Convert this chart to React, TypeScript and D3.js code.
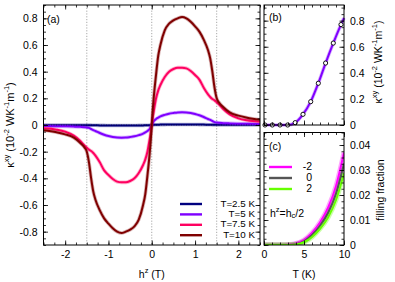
import React, { useRef, useEffect } from 'react';
import * as d3 from 'd3';

const W = 395;
const H = 282;
const FONT = '"Liberation Sans", Arial, Helvetica, sans-serif';

// panel (a): kappa_xy vs h^z for four temperatures
const hField = [
  -2.5, -2.2, -2.0, -1.8, -1.65, -1.55, -1.5, -1.45, -1.4, -1.35, -1.3, -1.2, -1.1, -1.0,
  -0.9, -0.8, -0.7, -0.6, -0.5, -0.4, -0.3, -0.2, -0.15, -0.1, -0.05, -0.02, 0,
  0.02, 0.05, 0.1, 0.15, 0.2, 0.3, 0.4, 0.5, 0.6, 0.7, 0.8, 0.9, 1.0, 1.1, 1.2, 1.3,
  1.35, 1.4, 1.45, 1.5, 1.55, 1.65, 1.8, 2.0, 2.2, 2.5
];
const kappaT25 = [
  -0.001, -0.001, -0.001, -0.001, -0.001, -0.001, -0.001, -0.001, -0.001, -0.002, -0.002, -0.003, -0.003, -0.004,
  -0.004, -0.004, -0.004, -0.004, -0.004, -0.004, -0.003, -0.003, -0.002, -0.002, -0.001, -0.001, 0,
  0.001, 0.001, 0.002, 0.002, 0.003, 0.003, 0.004, 0.004, 0.004, 0.004, 0.004, 0.004, 0.004, 0.003, 0.003, 0.002,
  0.002, 0.001, 0.001, 0.001, 0.001, 0.001, 0.001, 0.001, 0.001, 0.001
];
const kappaT5 = [
  -0.008, -0.009, -0.01, -0.012, -0.014, -0.016, -0.018, -0.022, -0.03, -0.038, -0.045, -0.06, -0.073, -0.083,
  -0.09, -0.094, -0.095, -0.094, -0.09, -0.085, -0.076, -0.064, -0.055, -0.045, -0.03, -0.012, 0,
  0.012, 0.03, 0.045, 0.055, 0.064, 0.076, 0.085, 0.09, 0.094, 0.095, 0.094, 0.09, 0.083, 0.073, 0.06, 0.045,
  0.038, 0.03, 0.022, 0.018, 0.016, 0.014, 0.012, 0.01, 0.009, 0.008
];
const kappaT75 = [
  -0.025, -0.035, -0.05, -0.08, -0.12, -0.155, -0.17, -0.185, -0.195, -0.21, -0.23, -0.28, -0.34, -0.375,
  -0.405, -0.425, -0.43, -0.43, -0.42, -0.4, -0.36, -0.3, -0.26, -0.2, -0.11, -0.05, 0,
  0.05, 0.11, 0.2, 0.26, 0.3, 0.36, 0.4, 0.42, 0.43, 0.43, 0.425, 0.405, 0.375, 0.34, 0.28, 0.23,
  0.21, 0.195, 0.185, 0.17, 0.155, 0.12, 0.08, 0.05, 0.035, 0.025
];
const kappaT10 = [
  -0.04, -0.055, -0.07, -0.095, -0.135, -0.17, -0.2, -0.28, -0.4, -0.5, -0.56, -0.64, -0.7, -0.74,
  -0.775, -0.8, -0.81, -0.8, -0.785, -0.76, -0.71, -0.6, -0.52, -0.38, -0.22, -0.1, 0,
  0.1, 0.22, 0.38, 0.52, 0.6, 0.71, 0.76, 0.785, 0.8, 0.81, 0.8, 0.775, 0.74, 0.7, 0.64, 0.56,
  0.5, 0.4, 0.28, 0.2, 0.17, 0.135, 0.095, 0.07, 0.055, 0.04
];
const seriesLabels = ['T=2.5 K', 'T=5 K', 'T=7.5 K', 'T=10 K'];
const seriesColors = ['#00007f', '#7f00ff', '#ff0060', '#7f0000'];
const seriesValues = [kappaT25, kappaT5, kappaT75, kappaT10];
const criticalFields = [-1.5, 0, 1.5];

// panel (b): kappa_xy vs T at fixed field
const tempB = [0.125, 1.04, 2.0, 2.96, 3.9, 4.875, 5.84, 6.79, 7.7, 8.66, 9.625];
const kappaB = [0, 0, 0, 0, 0.018, 0.082, 0.179, 0.32, 0.475, 0.628, 0.77];
const tempBLine = [0, 0.125, 1.04, 2.0, 2.96, 3.9, 4.875, 5.84, 6.79, 7.7, 8.66, 9.625, 10];
const kappaBLine = [0, 0, 0, 0, 0, 0.018, 0.082, 0.179, 0.32, 0.475, 0.628, 0.77, 0.82];

// panel (c): filling fraction vs T
const tempC = [0, 1, 2, 3, 4, 5, 6, 7, 8, 9, 10];
const fillM2 = [0, 0, 0, 0.0001, 0.0006, 0.002, 0.0048, 0.009, 0.0148, 0.0235, 0.037];
const fill0 = [0, 0, 0, 0, 0.0003, 0.0015, 0.004, 0.0077, 0.0128, 0.0205, 0.0325];
const fillP2 = [0, 0, 0, 0, 0.0002, 0.0011, 0.0032, 0.0065, 0.011, 0.018, 0.0287];
const fillLabels = ['-2', '0', '2'];
const fillColors = ['#ff00ff', '#555555', '#66ff00'];
const fillValues = [fillM2, fill0, fillP2];

const App = () => {
  const svgRef = useRef(null);

  useEffect(() => {
    const svg = d3.select(svgRef.current);
    svg.selectAll('*').remove();
    svg.attr('font-family', FONT);

    const fmt = (d) => (d === 0 ? '0' : String(d));

    // draws inward ticks on all four sides plus the frame
    const frame = (x, y, xMajor, xMinor, yMajor, yMinor, opts) => {
      const [x0, x1] = x.range();
      const [y0, y1] = y.range(); // y0 bottom, y1 top
      const g = svg.append('g');
      const tick = (sel) => sel.select('.domain').remove();
      const styleText = (sel) => sel.selectAll('text').attr('fill', '#000').style('font-size', '10.5px').style('font-family', FONT);

      const bottom = g.append('g').attr('transform', `translate(0,${y0})`)
        .call(d3.axisBottom(x).tickValues(xMajor).tickSize(-4.5).tickPadding(6)
          .tickFormat(opts.xLabels ? fmt : () => ''));
      tick(bottom); styleText(bottom);
      const bottomMinor = g.append('g').attr('transform', `translate(0,${y0})`)
        .call(d3.axisBottom(x).tickValues(xMinor).tickSize(-2.5).tickFormat(() => ''));
      tick(bottomMinor);
      const top = g.append('g').attr('transform', `translate(0,${y1})`)
        .call(d3.axisTop(x).tickValues(xMajor).tickSize(-4.5).tickFormat(() => ''));
      tick(top);
      const topMinor = g.append('g').attr('transform', `translate(0,${y1})`)
        .call(d3.axisTop(x).tickValues(xMinor).tickSize(-2.5).tickFormat(() => ''));
      tick(topMinor);

      const left = g.append('g').attr('transform', `translate(${x0},0)`)
        .call(d3.axisLeft(y).tickValues(yMajor).tickSize(-4.5).tickPadding(6)
          .tickFormat(opts.yLabelsLeft ? fmt : () => ''));
      tick(left); styleText(left);
      const leftMinor = g.append('g').attr('transform', `translate(${x0},0)`)
        .call(d3.axisLeft(y).tickValues(yMinor).tickSize(-2.5).tickFormat(() => ''));
      tick(leftMinor);
      const right = g.append('g').attr('transform', `translate(${x1},0)`)
        .call(d3.axisRight(y).tickValues(yMajor).tickSize(-4.5).tickPadding(6)
          .tickFormat(opts.yLabelsRight ? fmt : () => ''));
      tick(right); styleText(right);
      const rightMinor = g.append('g').attr('transform', `translate(${x1},0)`)
        .call(d3.axisRight(y).tickValues(yMinor).tickSize(-2.5).tickFormat(() => ''));
      tick(rightMinor);

      g.selectAll('.tick line').attr('stroke', '#000').attr('stroke-width', 0.8);

      g.append('rect')
        .attr('x', x0).attr('y', y1)
        .attr('width', x1 - x0).attr('height', y0 - y1)
        .attr('fill', 'none').attr('stroke', '#000').attr('stroke-width', 1);
    };

    // rich text with superscripts / subscripts
    const richText = (parent, parts, x, y, anchor, rotate, size = 10.5) => {
      const t = parent.append('text')
        .attr('x', x).attr('y', y)
        .attr('text-anchor', anchor)
        .attr('dominant-baseline', 'middle')
        .style('font-size', `${size}px`)
        .attr('fill', '#000');
      if (rotate) t.attr('transform', `rotate(-90,${x},${y})`);
      parts.forEach((p) => {
        const s = t.append('tspan').text(p.t);
        if (p.sup) s.attr('baseline-shift', '45%').style('font-size', '7.5px');
        if (p.sub) s.attr('baseline-shift', '-25%').style('font-size', '7.5px');
      });
      return t;
    };

    const range = (a, b, step) => d3.range(a, b + step / 2, step).map((v) => Math.round(v * 10000) / 10000);

    // ---------- panel (a)
    const xA = d3.scaleLinear().domain([-2.5, 2.5]).range([43.5, 260]);
    const yA = d3.scaleLinear().domain([-0.9, 0.9]).range([245, 5]);
    const gA = svg.append('g');

    criticalFields.forEach((h) => {
      gA.append('line')
        .attr('x1', xA(h)).attr('x2', xA(h))
        .attr('y1', yA(0.9)).attr('y2', yA(-0.9))
        .attr('stroke', '#a8a8a8').attr('stroke-width', 1)
        .attr('stroke-dasharray', '1.2,1.6');
    });

    const lineA = d3.line()
      .x((d, i) => xA(hField[i]))
      .y((d) => yA(d))
      .curve(d3.curveMonotoneX);

    seriesValues.forEach((vals, i) => {
      gA.append('path').datum(vals)
        .attr('fill', 'none').attr('stroke', seriesColors[i])
        .attr('stroke-opacity', 0.3).attr('stroke-width', 3.6)
        .attr('d', lineA);
      gA.append('path').datum(vals)
        .attr('fill', 'none').attr('stroke', seriesColors[i])
        .attr('stroke-width', 2)
        .attr('d', lineA);
    });
    gA.append('line')
      .attr('x1', xA(-2.5)).attr('x2', xA(2.5))
      .attr('y1', yA(0)).attr('y2', yA(0))
      .attr('stroke', '#000').attr('stroke-width', 0.8)
      .attr('stroke-dasharray', '1,1.5').attr('stroke-opacity', 0.6);

    frame(xA, yA, range(-2, 2, 1), range(-2.5, 2.5, 0.25), range(-0.8, 0.8, 0.2), range(-0.9, 0.9, 0.05),
      { xLabels: true, yLabelsLeft: true, yLabelsRight: false });

    // legend (a)
    seriesLabels.forEach((lab, i) => {
      const yy = 204 + i * 10.4;
      gA.append('line')
        .attr('x1', 180).attr('x2', 202).attr('y1', yy).attr('y2', yy)
        .attr('stroke', seriesColors[i]).attr('stroke-width', 2.4);
      gA.append('text')
        .attr('x', 255).attr('y', yy)
        .attr('text-anchor', 'end').attr('dominant-baseline', 'middle')
        .style('font-size', '9.8px').text(lab);
    });
    gA.append('text').attr('x', 47).attr('y', 20)
      .attr('dominant-baseline', 'middle').style('font-size', '10.5px').text('(a)');

    richText(svg, [{ t: 'h' }, { t: 'z', sup: true }, { t: ' (T)' }], xA(0), 275, 'middle', false);
    richText(svg, [{ t: 'κ' }, { t: 'xy', sup: true }, { t: ' (10' }, { t: '-2', sup: true }, { t: ' WK' },
      { t: '-1', sup: true }, { t: 'm' }, { t: '-1', sup: true }, { t: ')' }], 11, 125, 'middle', true, 11);

    // ---------- panel (b)
    const xB = d3.scaleLinear().domain([0, 10]).range([264, 344]);
    const yB = d3.scaleLinear().domain([0, 0.92]).range([125, 5]);
    const gB = svg.append('g');
    const lineB = d3.line()
      .x((d, i) => xB(tempBLine[i]))
      .y((d) => yB(d))
      .curve(d3.curveMonotoneX);
    gB.append('path').datum(kappaBLine)
      .attr('fill', 'none').attr('stroke', '#8000ff').attr('stroke-opacity', 0.3)
      .attr('stroke-width', 3.6).attr('d', lineB);
    gB.append('path').datum(kappaBLine)
      .attr('fill', 'none').attr('stroke', '#8000ff').attr('stroke-width', 2).attr('d', lineB);
    gB.selectAll('circle').data(kappaB).enter().append('circle')
      .attr('cx', (d, i) => xB(tempB[i])).attr('cy', (d) => yB(d))
      .attr('r', 2.1).attr('fill', '#fff').attr('stroke', '#000').attr('stroke-width', 0.9);

    frame(xB, yB, range(0, 10, 5), range(0, 10, 1), range(0, 0.8, 0.2), range(0, 0.9, 0.05),
      { xLabels: false, yLabelsLeft: false, yLabelsRight: true });
    gB.append('text').attr('x', 269).attr('y', 18)
      .attr('dominant-baseline', 'middle').style('font-size', '10.5px').text('(b)');
    richText(svg, [{ t: 'κ' }, { t: 'xy', sup: true }, { t: ' (10' }, { t: '-2', sup: true }, { t: ' WK' },
      { t: '-1', sup: true }, { t: 'm' }, { t: '-1', sup: true }, { t: ')' }], 379, 62, 'middle', true);

    // ---------- panel (c)
    const xC = d3.scaleLinear().domain([0, 10]).range([264, 344]);
    const yC = d3.scaleLinear().domain([0, 0.045]).range([245, 132.5]);
    const gC = svg.append('g');
    const clipId = 'clipC';
    svg.append('defs').append('clipPath').attr('id', clipId)
      .append('rect').attr('x', 264).attr('y', 132.5).attr('width', 80).attr('height', 112.5);
    const lineC = d3.line()
      .x((d, i) => xC(tempC[i]))
      .y((d) => yC(d))
      .curve(d3.curveMonotoneX);
    const gCurves = gC.append('g').attr('clip-path', `url(#${clipId})`);
    fillValues.forEach((vals, i) => {
      gCurves.append('path').datum(vals)
        .attr('fill', 'none').attr('stroke', fillColors[i]).attr('stroke-opacity', 0.35)
        .attr('stroke-width', 5).attr('d', lineC);
    });
    fillValues.forEach((vals, i) => {
      gCurves.append('path').datum(vals)
        .attr('fill', 'none').attr('stroke', fillColors[i])
        .attr('stroke-width', 2).attr('d', lineC);
    });

    frame(xC, yC, range(0, 10, 5), range(0, 10, 1), range(0, 0.04, 0.01), range(0, 0.045, 0.0025),
      { xLabels: true, yLabelsLeft: false, yLabelsRight: true });

    fillLabels.forEach((lab, i) => {
      const yy = 167 + i * 11;
      gC.append('line')
        .attr('x1', 269).attr('x2', 292).attr('y1', yy).attr('y2', yy)
        .attr('stroke', fillColors[i]).attr('stroke-width', 2.4);
      gC.append('text')
        .attr('x', 312).attr('y', yy)
        .attr('text-anchor', 'end').attr('dominant-baseline', 'middle')
        .style('font-size', '10.5px').text(lab);
    });
    gC.append('text').attr('x', 269).attr('y', 147)
      .attr('dominant-baseline', 'middle').style('font-size', '10.5px').text('(c)');
    richText(gC, [{ t: 'h' }, { t: 'z', sup: true }, { t: '=h' }, { t: 'c', sub: true }, { t: '/2' }],
      270, 214, 'start', false);

    richText(svg, [{ t: 'T (K)' }], xC(5), 275, 'middle', false);
    richText(svg, [{ t: 'filling fraction' }], 381, 190, 'middle', true);
  }, []);

  return (
    <div style={{ position: 'absolute', left: 0, top: 0 }}>
      <svg ref={svgRef} width={W} height={H} style={{ display: 'block', background: '#fff' }} />
    </div>
  );
};

export default App;
